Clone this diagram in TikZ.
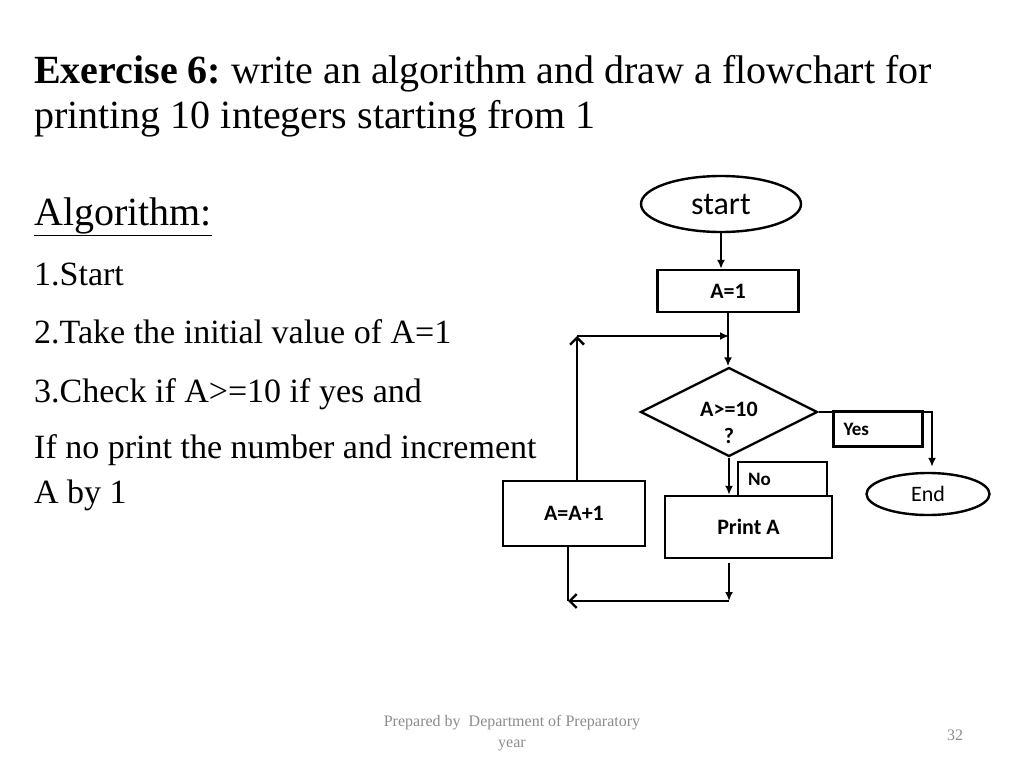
\documentclass[tikz,border=0pt]{standalone}
\usepackage{fontspec}
\setmainfont{Liberation Serif}
\newfontfamily\flowfont{Carlito}
\usetikzlibrary{arrows.meta,shapes.geometric}
\definecolor{footGray}{HTML}{8C8C8C}

\begin{document}
\begin{tikzpicture}[x=1pt,y=-1pt,line width=2.4pt]
\tikzstyle{txt}=[anchor=base west,inner sep=0pt,font=\fontsize{34}{40}\selectfont]
\tikzstyle{proc}=[draw,rectangle,inner sep=0pt,font=\flowfont\bfseries\fontsize{22}{26}\selectfont]
\tikzstyle{term}=[draw,ellipse,inner sep=0pt,font=\flowfont\fontsize{22}{26}\selectfont]
\tikzstyle{lblbox}=[draw,rectangle,inner xsep=10pt,inner ysep=0pt,text width=69pt,minimum height=35pt,align=left,font=\flowfont\bfseries\fontsize{19}{22}\selectfont]
\tikzstyle{arr}=[-{Latex[length=9pt,width=8pt]}]
\tikzstyle{openarr}=[-{Straight Barb[length=7pt,width=14pt]}]
\fill[white] (0,0) rectangle (1024,768);
\useasboundingbox (0,0) rectangle (1024,768);
% left column text
\node[txt,font=\fontsize{40}{48}\selectfont] (title1) at (33,83) {\textbf{Exercise 6:}\ write an algorithm and draw a flowchart for};
\node[txt,font=\fontsize{40}{48}\selectfont] (title2) at (33,128) {printing 10 integers starting from 1};
\node[txt,font=\fontsize{40}{48}\selectfont] (algo) at (33,225) {\underline{Algorithm:}};
\node[txt] (s1) at (33,285) {1.Start};
\node[txt] (s2) at (33,343) {2.Take the initial value of A=1};
\node[txt] (s3) at (33,402) {3.Check if A>=10 if yes and};
\node[txt] (s4) at (33,458) {If no print the number and increment};
\node[txt] (s5) at (33,503) {A by 1};
% flowchart
\node[term,minimum width=160pt,minimum height=56pt,font=\flowfont\fontsize{32}{36}\selectfont] (start) at (721,204) {start};
\node[proc,minimum width=141pt,minimum height=42pt] (init) at (728,291) {A=1};
\node[draw,diamond,aspect=2,inner sep=0pt,minimum width=177pt,minimum height=89pt,font=\flowfont\bfseries\fontsize{22}{27}\selectfont] (test) at (729,412) {\raisebox{-18pt}[0pt][0pt]{\begin{tabular}{@{}c@{}}A>=10\\?\end{tabular}}};
\node[lblbox] (yeslbl) at (878,429) {Yes};
\node[lblbox,minimum height=34pt] (nolbl) at (782.5,479) {No};
\node[proc,minimum width=167pt,minimum height=62pt] (print) at (748.5,527) {Print A};
\node[proc,minimum width=142pt,minimum height=65pt] (incr) at (574,513.5) {A=A+1};
\node[term,minimum width=123pt,minimum height=42pt] (stop) at (928,494) {End};
\coordinate (loopcorner) at (577,336);
\coordinate (loopjoin) at (729,336);
\coordinate (yescorner) at (932,412);
\coordinate (retcorner) at (729,601);
\coordinate (retend) at (568,601);
\foreach \u/\v in {start/init,init/test,test/print}{\draw[arr] (\u.south) -- (\u.south |- \v.north);}
\draw[openarr] (incr.north -| loopcorner) -- (loopcorner);
\draw[arr] (loopcorner) -- (loopjoin);
\draw[arr,shorten >=5pt] (test.east) -- (yescorner) -- (yescorner |- stop.north);
\draw[arr,shorten <=4pt] (print.south -| retcorner) -- (retcorner);
\draw[openarr] (retcorner) -- (retend);
\draw (incr.south -| retend) -- (retend);
% footer
\node[align=center,text=footGray,font=\fontsize{16}{21}\selectfont] (foot) at (512,733) {Prepared by~ Department of Preparatory\\year};
\node[text=footGray,font=\fontsize{16}{20}\selectfont] (pagenum) at (955,735) {32};
\end{tikzpicture}
\end{document}
